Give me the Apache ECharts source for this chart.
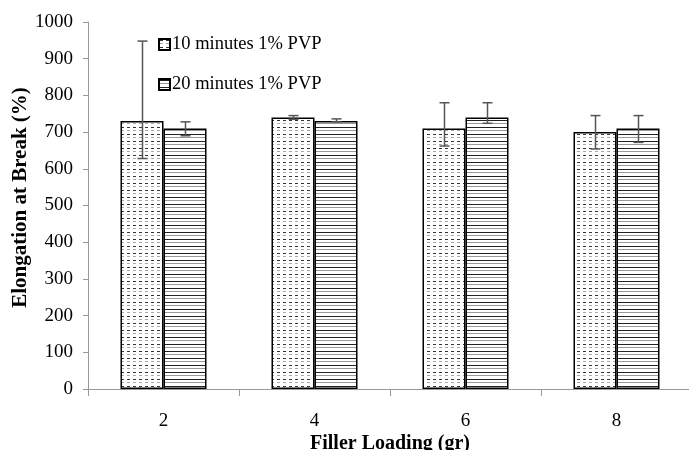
<!DOCTYPE html>
<html><head><meta charset="utf-8">
<script src="https://cdn.jsdelivr.net/npm/echarts@6/dist/echarts.min.js"></script>
<style>html,body{margin:0;padding:0;background:#fff}#c{width:689px;height:450px}</style>
</head><body><div id="c"></div>
<script>
const categories = ['2', '4', '6', '8'];
const seriesNames = ['10 minutes 1% PVP', '20 minutes 1% PVP'];
const values10 = [730, 740, 710, 700];
const values20 = [710, 730, 740, 710];
const errHigh10 = [948, 745, 780, 745];
const errLow10 = [628, 735, 662, 654];
const errHigh20 = [728, 736, 780, 745];
const errLow20 = [690, 728, 724, 672];

const FONT = '"Liberation Serif", "Times New Roman", serif';
const BAR_W = 43;

function makePattern(type) {
  const c = document.createElement('canvas');
  c.width = 6; c.height = 7;
  const ctx = c.getContext('2d');
  ctx.fillStyle = '#fff'; ctx.fillRect(0, 0, 6, 7);
  if (type === 'dash') {
    ctx.fillStyle = '#333'; ctx.fillRect(1, 1, 3, 1);
    ctx.fillStyle = '#aaa'; ctx.fillRect(1, 4, 3, 1);
  } else {
    ctx.fillStyle = '#222'; ctx.fillRect(0, 1, 6, 1);
    ctx.fillStyle = '#999'; ctx.fillRect(0, 4, 6, 1);
  }
  return c;
}

function errRender(side) {
  return function (params, api) {
    const i = api.value(0);
    const hi = api.coord([i, api.value(1)]);
    const lo = api.coord([i, api.value(2)]);
    const x = Math.round(hi[0] + side * BAR_W / 2) + 0.5;
    const cap = 5;
    const st = { stroke: '#555', lineWidth: 1.5 };
    return {
      type: 'group',
      children: [
        { type: 'line', shape: { x1: x, y1: hi[1], x2: x, y2: lo[1] }, style: st },
        { type: 'line', shape: { x1: x - cap, y1: hi[1], x2: x + cap, y2: hi[1] }, style: st },
        { type: 'line', shape: { x1: x - cap, y1: lo[1], x2: x + cap, y2: lo[1] }, style: st }
      ]
    };
  };
}

const chart = echarts.init(document.getElementById('c'), null, { renderer: 'canvas' });
const p1 = makePattern('dash');
const p2 = makePattern('line');

chart.setOption({
  animation: false,
  backgroundColor: '#fff',
  textStyle: { fontFamily: FONT },
  grid: { left: 88, right: -3, top: 22, bottom: 61, containLabel: false, outerBoundsMode: 'none' },
  legend: {
    orient: 'vertical', left: 153, top: 30,
    itemWidth: 11, itemHeight: 11, itemGap: 21,
    icon: 'rect',
    data: seriesNames,
    textStyle: { fontFamily: FONT, fontSize: 18.5, color: '#000', padding: [0, 0, 0, -3] }
  },
  xAxis: {
    type: 'category',
    data: categories,
    name: 'Filler Loading (gr)',
    nameLocation: 'middle',
    nameGap: 45,
    nameMoveOverlap: false,
    nameTextStyle: { fontFamily: FONT, fontSize: 20, fontWeight: 'bold', color: '#000' },
    axisLine: { lineStyle: { color: '#999', width: 1 } },
    axisTick: { show: true, length: 7, lineStyle: { color: '#999' } },
    axisLabel: { fontFamily: FONT, fontSize: 19, color: '#000', margin: 23 }
  },
  yAxis: {
    type: 'value', min: 0, max: 1000, interval: 100,
    name: 'Elongation at Break (%)',
    nameLocation: 'middle',
    nameGap: 57,
    nameMoveOverlap: false,
    nameTextStyle: { fontFamily: FONT, fontSize: 21, fontWeight: 'bold', color: '#000', padding: [0, 0, 0, 16] },
    axisLine: { show: true, lineStyle: { color: '#999', width: 1 } },
    axisTick: { show: true, length: 5, lineStyle: { color: '#999' } },
    splitLine: { show: false },
    axisLabel: { fontFamily: FONT, fontSize: 19, color: '#000', margin: 15, formatter: v => String(v) }
  },
  series: [
    {
      name: seriesNames[0], type: 'bar', data: values10, barWidth: BAR_W, barGap: '0%',
      itemStyle: { color: { image: p1, repeat: 'repeat' }, borderColor: '#000', borderWidth: 1.5 }
    },
    {
      name: seriesNames[1], type: 'bar', data: values20, barWidth: BAR_W, barGap: '0%',
      itemStyle: { color: { image: p2, repeat: 'repeat' }, borderColor: '#000', borderWidth: 1.5 }
    },
    {
      type: 'custom', renderItem: errRender(-1), z: 10,
      encode: { x: 0, y: [1, 2] },
      data: categories.map((c, i) => [i, errHigh10[i], errLow10[i]])
    },
    {
      type: 'custom', renderItem: errRender(1), z: 10,
      encode: { x: 0, y: [1, 2] },
      data: categories.map((c, i) => [i, errHigh20[i], errLow20[i]])
    }
  ]
});
</script>
</body></html>
